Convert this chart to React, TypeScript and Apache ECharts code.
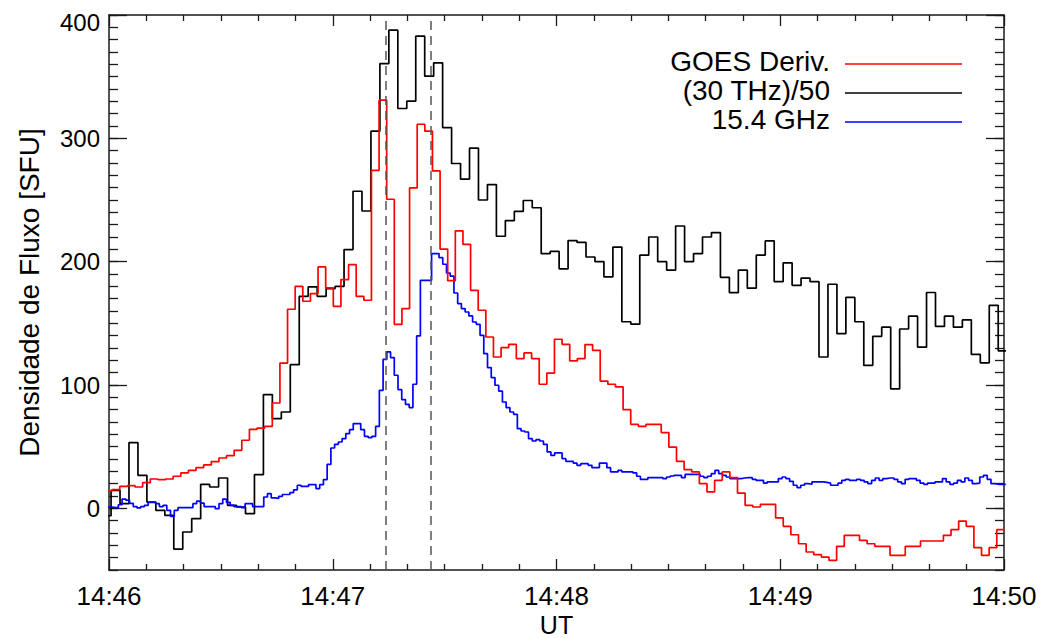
import React, { useEffect, useRef } from "react";
import * as echarts from "echarts";

// Time axis: seconds after 14:46:00 UT
const AXIS_START_MIN = 46;
const xTickLabels = ["14:46", "14:47", "14:48", "14:49", "14:50"];
const yMajorTicks = [0, 100, 200, 300, 400];

// GOES derivative, 2.045 s bins (first bin edge in seconds, then values)
const goesStart = -1.2;
const goesCadence = 2.045;
const goesDeriv = [
  14, 15.2, 17.8, 18.4, 17.3, 20.8, 23.8, 23.2, 23.8, 26,
  28.7, 30.8, 33, 35.2, 37.9, 40.8, 42.7, 47, 55.2, 64.1,
  65.1, 66.5, 85.4, 117.8, 161.4, 180, 167.9, 174.1, 195.7, 178.7,
  163.8, 185.5, 197.6, 171.9, 168.7, 274.1, 330.9, 250.6, 149.2, 162,
  259.8, 311.4, 305.8, 273.6, 210.1, 184.6, 225, 214, 176.8, 160.6,
  138.9, 122.7, 130.3, 133, 121.4, 126, 121.4, 100.6, 109.7, 137.1,
  133, 119.5, 121.4, 132.8, 128.1, 103.2, 100.6, 98.4, 80, 68.1,
  66.5, 68.1, 68.1, 61.4, 49.7, 38.1, 31.4, 29.5, 20, 13.3,
  22.7, 29.5, 24.9, 12.4, 2.4, 1.1, 3.2, 3.2, -7.8, -14.6,
  -21.4, -28.7, -35.4, -37.6, -39.5, -42.2, -30.8, -21.9, -21.9, -26,
  -28.7, -30.8, -30.8, -38.1, -38.1, -30.8, -30.8, -26.5, -26.5, -26.5,
  -21.9, -17.3, -10.3, -14.6, -31.9, -38.1, -31.9, -17.3,
];

// 30 THz flux divided by 50, 2.403 s bins
const thzStart = -1.85;
const thzCadence = 2.403;
const thz30 = [
  -6, 14.6, 3.8, 53.3, 26.8, 5.1, -1.6, -5.7, -33, -19.2,
  -8.4, 19.5, 17.3, 24.6, 2.4, 1.1, -4.3, 27.3, 92.2, 72.7,
  78.1, 116.5, 171.9, 179.5, 171.9, 178.2, 180, 209.8, 257.1, 241.1,
  305.8, 360.6, 387.7, 324.2, 330.1, 382.8, 350.4, 361.2, 308.7, 279.6,
  267, 292, 250, 262.5, 220.6, 233.3, 240.7, 249.6, 243.7, 206.5,
  208.3, 194.2, 217.1, 215.6, 203.8, 200, 187.6, 211.8, 151.3, 149.3,
  205.3, 220, 200, 193.2, 228.9, 200, 206.5, 220, 223.6, 187.3,
  174.9, 193.2, 178.5, 205.3, 216.8, 183.8, 199.1, 180.8, 186.7, 183.8,
  122.7, 181.7, 141.6, 171, 151.3, 115.9, 139.5, 146.9, 96.8, 145.4,
  155.8, 130.7, 175, 147.5, 155.8, 146.9, 152.8, 124.8, 118, 164.6,
  127.7,
];

// 15.4 GHz flux, 1 s bins
const ghzStart = -0.5;
const ghzCadence = 1;
const ghz154 = [
  1.1, 0.8, 0.3, 2.9, 7.5, 6.7, 4.1, 1.4, 0.3, 1.4,
  2.4, 4.8, 4.8, 3.8, 1.4, 2.4, -1.6, -6.5, -1.6, 0.5,
  0.5, 0.5, 0.5, 3.8, 5.9, 4.3, 1.4, 1.4, 1.4, -0.3,
  3.8, 7.5, 4.8, 2.4, 1.4, 1.4, 0.5, 3.8, 3.8, 1.4,
  1.4, 1.4, 9.2, 11.9, 8.5, 8, 9.7, 11.2, 11.2, 12.7,
  15, 18.7, 17.8, 17.8, 19.2, 19.2, 16, 19.2, 23.3, 35.7,
  48.9, 51.9, 53.8, 56.5, 60.6, 63.8, 68.7, 68.7, 63.8, 58.4,
  57.3, 58.4, 66.5, 95.7, 120.8, 126.8, 122.2, 107.9, 96.3, 88.2,
  84.3, 81.7, 100.6, 139.8, 184.9, 184.9, 184.9, 206.6, 206.6, 203.3,
  197.9, 190.8, 188.2, 174.6, 166, 162, 159.2, 156, 151.1, 149.2,
  140.3, 125.4, 114.1, 106, 99.8, 95.1, 86.2, 81.7, 78.1, 76.2,
  64.6, 62.7, 61.9, 56.5, 54.6, 55.7, 54.6, 51.9, 45.7, 43,
  44.9, 44.9, 40.3, 38.1, 38.1, 36.7, 34.9, 36.2, 36.2, 34.9,
  33, 33, 36.7, 36.7, 33, 29.5, 29.5, 30.8, 29.5, 29.5,
  29.5, 28.7, 26, 23.5, 23.5, 24.9, 24.9, 24.9, 24.9, 24.1,
  25.4, 26.2, 26.8, 26.8, 24.9, 27.6, 27.6, 27.6, 27.6, 26,
  24.9, 26, 28.1, 30.8, 28.1, 26.8, 25.4, 24.1, 24.1, 24.1,
  24.6, 24.9, 24.9, 23.5, 22.7, 22.7, 20.5, 21.4, 21.4, 21.4,
  24.1, 25.4, 24.1, 21.9, 18.7, 16.8, 18.7, 20, 19.5, 21.4,
  21.4, 21.4, 21, 20.5, 18.7, 18.7, 20.5, 22.7, 23.5, 22.7,
  22.7, 23.5, 22.7, 21.4, 20, 22.7, 24.6, 22.7, 24.1, 24.6,
  24.6, 23.5, 21.4, 20, 23.5, 24.1, 24.1, 22.7, 20.5, 19.5,
  20.5, 20.5, 21.4, 21.4, 24.1, 21.4, 19.5, 20.5, 22.7, 21.4,
  24.6, 22.7, 20, 20.5, 25.4, 26.8, 23.5, 20, 19.5, 19.5,
  19.5,
];

// Dashed reference times (s after 14:46)
const markerTimes = [74.1, 86.2];

const legendItems = [
  { name: "GOES Deriv.", color: "#ff0000" },
  { name: "(30 THz)/50", color: "#000000" },
  { name: "15.4 GHz", color: "#0000ff" },
];

const FONT = "'Liberation Sans', Arial, Helvetica, sans-serif";
const AXIS_COLOR = "#1a1a1a";

// Bin edges -> step points (value held across each bin)
function toSteps(start: number, cadence: number, values: number[]) {
  const pts: number[][] = values.map((v, i) => [start + i * cadence, v]);
  pts.push([start + values.length * cadence, values[values.length - 1]]);
  return pts;
}

export default function App() {
  const ref = useRef<HTMLDivElement>(null);

  useEffect(() => {
    if (!ref.current) return;
    const chart = echarts.init(ref.current, undefined, { renderer: "svg" });

    const xBase = {
      type: "value",
      min: 0,
      max: 240,
      interval: 60,
      splitLine: { show: false },
      axisLine: { show: true, onZero: false, lineStyle: { color: AXIS_COLOR, width: 1.5 } },
      axisTick: { show: true, inside: true, length: 11, lineStyle: { color: AXIS_COLOR, width: 1.3 } },
      minorTick: { show: true, splitNumber: 6, length: 6, lineStyle: { color: AXIS_COLOR, width: 1.3 } },
    };

    const yShort = {
      type: "value",
      min: -50,
      max: 400,
      interval: 10,
      splitLine: { show: false },
      axisLine: { show: true, onZero: false, lineStyle: { color: AXIS_COLOR, width: 1.5 } },
      axisTick: { show: true, inside: true, length: 9, lineStyle: { color: AXIS_COLOR, width: 1.3 } },
    };

    const yLong = {
      type: "value",
      min: -50,
      max: 400,
      splitLine: { show: false },
      axisLine: { show: false, onZero: false },
      axisLabel: { show: false },
      axisTick: {
        show: true,
        inside: true,
        length: 18,
        customValues: yMajorTicks,
        lineStyle: { color: AXIS_COLOR, width: 1.3 },
      },
    };

    const lineSeries = (name: string, color: string, data: number[][], extra: any = {}) => ({
      name,
      type: "line",
      step: "end",
      data,
      showSymbol: false,
      symbol: "none",
      lineStyle: { color, width: 1.7 },
      itemStyle: { color },
      clip: true,
      ...extra,
    });

    const legendGraphics: any[] = [];
    legendItems.forEach((item, i) => {
      const y = 62 + i * 29;
      legendGraphics.push({
        type: "text",
        x: 830,
        y: y - 1,
        style: {
          text: item.name,
          fill: "#000",
          font: `28px ${FONT}`,
          align: "right",
          verticalAlign: "middle",
        },
      });
      legendGraphics.push({
        type: "line",
        shape: { x1: 845, y1: y + 2, x2: 962, y2: y + 2 },
        style: { stroke: item.color, lineWidth: 1.5 },
      });
    });

    const yTop = yMajorTicks[yMajorTicks.length - 1];

    chart.setOption({
      animation: false,
      backgroundColor: "#ffffff",
      textStyle: { fontFamily: FONT },
      grid: {
        left: 109,
        right: 43,
        top: 15,
        bottom: 68,
        containLabel: false,
        outerBoundsMode: "none",
      },
      xAxis: [
        {
          ...xBase,
          position: "bottom",
          name: "UT",
          nameLocation: "middle",
          nameGap: 44,
          nameMoveOverlap: false,
          nameTextStyle: { fontSize: 25, lineHeight: 22, color: "#000", fontFamily: FONT },
          axisLabel: {
            show: true,
            margin: 13,
            fontSize: 26,
            lineHeight: 26,
            color: "#000",
            fontFamily: FONT,
            formatter: (v: number) => xTickLabels[Math.round(v / 60)] ?? `14:${AXIS_START_MIN + v / 60}`,
          },
        },
        { ...xBase, position: "top", axisLabel: { show: false } },
      ],
      yAxis: [
        {
          ...yShort,
          position: "left",
          name: "Densidade de Fluxo [SFU]",
          nameLocation: "middle",
          nameGap: 66,
          nameMoveOverlap: false,
          nameTextStyle: { fontSize: 28, color: "#000", fontFamily: FONT },
          axisLabel: {
            show: true,
            interval: 0,
            margin: 9,
            fontSize: 24,
            color: "#000",
            fontFamily: FONT,
            formatter: (v: number) => {
              if (!yMajorTicks.includes(v)) return "";
              return v === yTop ? `{top|${v}}` : String(v);
            },
            rich: {
              top: { fontSize: 24, color: "#000", fontFamily: FONT, padding: [14, 0, 0, 0] },
            },
          },
        },
        { ...yLong, position: "left" },
        { ...yShort, position: "right", axisLabel: { show: false } },
        { ...yLong, position: "right" },
      ],
      series: [
        lineSeries("(30 THz)/50", "#000000", toSteps(thzStart, thzCadence, thz30), {
          markLine: {
            silent: true,
            symbol: "none",
            label: { show: false },
            lineStyle: { type: [9, 6], color: "#555555", width: 1.5 },
            data: markerTimes.map((t) => ({ xAxis: t })),
          },
        }),
        lineSeries("15.4 GHz", "#0000ff", toSteps(ghzStart, ghzCadence, ghz154)),
        lineSeries("GOES Deriv.", "#ff0000", toSteps(goesStart, goesCadence, goesDeriv)),
      ],
      graphic: legendGraphics,
    });

    return () => chart.dispose();
  }, []);

  return (
    <div
      ref={ref}
      style={{ position: "fixed", left: 0, top: 0, width: 1047, height: 638, background: "#fff" }}
    />
  );
}
